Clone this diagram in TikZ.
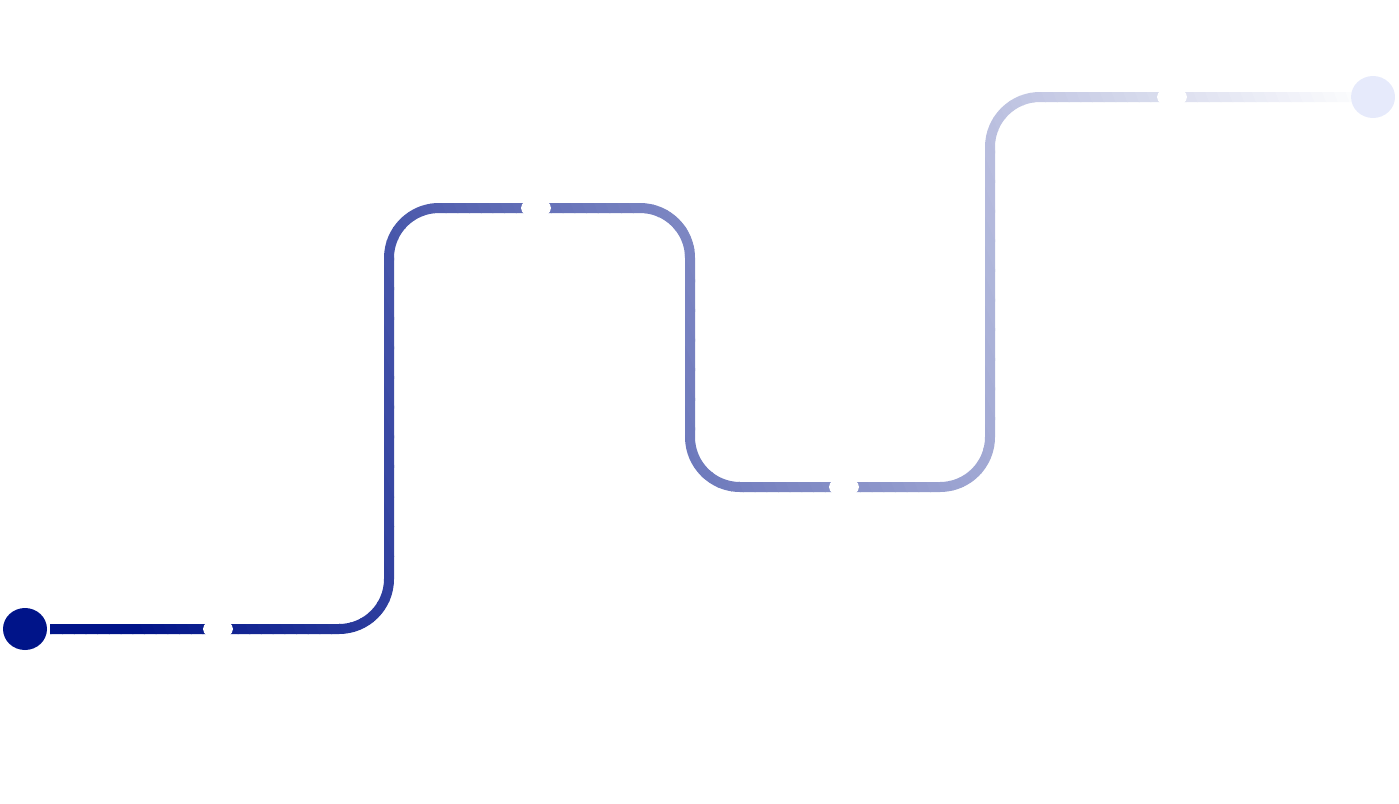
\documentclass[tikz,border=0pt]{standalone}
\usetikzlibrary{shapes,positioning,calc}
\definecolor{routeblue}{HTML}{001489}
\definecolor{routepale}{HTML}{E6EAFB}

\begin{document}
\begin{tikzpicture}[x=1pt, y=-1pt, stop/.style={ellipse, minimum width=44pt, minimum height=42pt, inner sep=0pt}, gap/.style={ellipse, fill=white, minimum width=30pt, minimum height=20pt, inner sep=0pt}, route/.style={line width=10pt, rounded corners=50pt, shorten <=3pt}]

\useasboundingbox (0,0) rectangle (1399,803);

% STOPS

\node [stop, fill=routeblue] (start) at (25,629) {};
\node [stop, fill=routepale] (finish) at (1373,97) {};

% CORNERS

\coordinate (c1) at (389,629);
\coordinate (c2) at (389,208);
\coordinate (c3) at (690,208);
\coordinate (c4) at (690,487);
\coordinate (c5) at (990,487);
\coordinate (c6) at (990,97);
\coordinate (far) at ($(start)!3!(finish)$);

% ROUTE (colour fades from start to finish)

\foreach \i in {0,...,142} {
  \pgfmathsetmacro\ta{-0.03+0.0075*\i}
  \pgfmathsetmacro\tb{\ta+0.0081}
  \pgfmathsetmacro\pct{max(0,min(100,100-100*(\ta+0.00375-0.07)/0.93))}
  \begin{scope}
    \coordinate (pa) at ($(start)!\ta!(finish)$);
    \coordinate (pb) at ($(start)!\tb!(finish)$);
    \clip ($(pa)!1000pt!90:(far)$) -- ($(pa)!1000pt!-90:(far)$) -- ($(pb)!1000pt!-90:(far)$) -- ($(pb)!1000pt!90:(far)$) -- cycle;
    \draw[route, routeblue!\pct!white] (start) -- (c1) -- (c2) -- (c3) -- (c4) -- (c5) -- (c6) -- (finish);
  \end{scope}
}

% GAPS

\node [gap] (gap1) at (218,629) {};
\node [gap] (gap2) at (536,208) {};
\node [gap] (gap3) at (844,487) {};
\node [gap] (gap4) at (1172,97) {};

\end{tikzpicture}
\end{document}
